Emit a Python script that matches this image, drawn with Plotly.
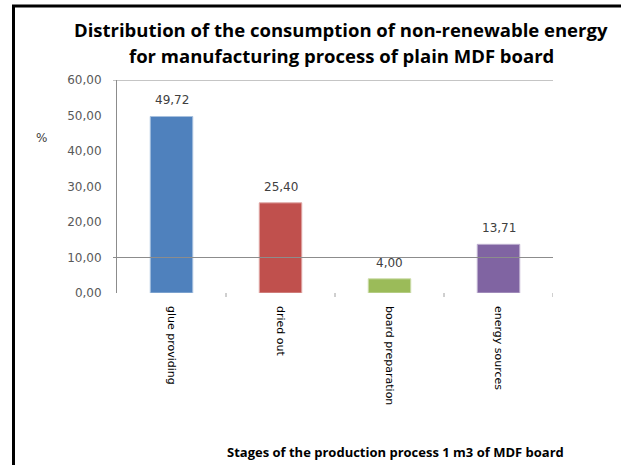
import plotly.graph_objects as go

# Chart data
stages = ["glue providing", "dried out", "board preparation", "energy sources"]
shares = [49.72, 25.40, 4.00, 13.71]
bar_colors = ["#4F81BD", "#C0504D", "#9BBB59", "#8064A2"]
edge_colors = ["#A7C0DE", "#DFA8A6", "#CDDDAC", "#BFB1D0"]
y_ticks = [0, 10, 20, 30, 40, 50, 60]
y_tick_labels = ["0,00", "10,00", "20,00", "30,00", "40,00", "50,00", "60,00"]
grid_levels = [10, 60]

title_lines = ["Distribution of the consumption of non-renewable energy",
               "for manufacturing process of plain MDF board"]
x_title_text = "Stages of the production process 1 m3 of MDF board"

W, H = 621, 465
L, R, T, B = 117, 68, 80, 172
PW, PH = W - L - R, H - T - B


def px_x(p):
    return (p - L) / PW


def px_y(p):
    return (H - B - p) / PH


def fmt(v):
    return f"{v:.2f}".replace(".", ",")


fig = go.Figure()
fig.add_trace(go.Bar(
    x=list(range(len(stages))),
    y=shares,
    width=0.39,
    marker=dict(color=bar_colors, line=dict(color=edge_colors, width=1)),
    hoverinfo="skip",
))

shapes = []
# horizontal gridlines
for g in grid_levels:
    shapes.append(dict(type="line", xref="paper", yref="y",
                       x0=-4 / PW, x1=1, y0=g, y1=g,
                       line=dict(color="#8C8C8C", width=1)))
# category boundary ticks
for i in range(1, len(stages) + 1):
    shapes.append(dict(type="line", xref="x", yref="paper",
                       x0=i - 0.5, x1=i - 0.5, y0=0, y1=-4 / PH,
                       line=dict(color="#A0A0A0", width=1)))
# outer frame
shapes.append(dict(type="path", xref="paper", yref="paper",
                   path=(f"M {px_x(13.5)} {px_y(470)} L {px_x(13.5)} {px_y(6)} "
                         f"L {px_x(630)} {px_y(6)}"),
                   line=dict(color="#000000", width=3)))

annotations = []
for i, v in enumerate(shares):
    annotations.append(dict(x=i, y=v, xref="x", yref="y", text=fmt(v),
                            showarrow=False, yanchor="bottom", yshift=7,
                            font=dict(family="DejaVu Sans", size=12, color="#404040")))
title_y = [30, 55]
for line, yp in zip(title_lines, title_y):
    annotations.append(dict(x=px_x(341), y=px_y(yp), xref="paper", yref="paper",
                            text=f"<b>{line}</b>", showarrow=False,
                            xanchor="center", yanchor="middle",
                            font=dict(family="Open Sans", size=18.5, color="#000000")))
annotations.append(dict(x=px_x(395), y=px_y(452), xref="paper", yref="paper",
                        text=f"<b>{x_title_text}</b>", showarrow=False,
                        xanchor="center", yanchor="middle",
                        font=dict(family="Open Sans", size=13, color="#000000")))
annotations.append(dict(x=px_x(41), y=px_y(138), xref="paper", yref="paper",
                        text="%", showarrow=False,
                        xanchor="center", yanchor="middle",
                        font=dict(family="DejaVu Sans", size=12, color="#404040")))

fig.update_layout(
    width=W, height=H,
    margin=dict(l=L, r=R, t=T, b=B),
    paper_bgcolor="white", plot_bgcolor="white",
    showlegend=False,
    shapes=shapes,
    annotations=annotations,
    xaxis=dict(range=[-0.5, len(stages) - 0.5], tickvals=list(range(len(stages))),
               ticktext=stages, tickangle=90, showgrid=False, zeroline=False,
               showline=False, ticks="", ticklabelstandoff=12,
               tickfont=dict(family="DejaVu Sans", size=11, color="#000000")),
    yaxis=dict(range=[0, 60], tickvals=y_ticks, ticktext=y_tick_labels,
               showgrid=False, zeroline=False, showline=True,
               linecolor="#8C8C8C", linewidth=1, ticks="",
               ticklabelstandoff=12,
               tickfont=dict(family="DejaVu Sans", size=12, color="#595959")),
)

fig.write_html("out.html")
